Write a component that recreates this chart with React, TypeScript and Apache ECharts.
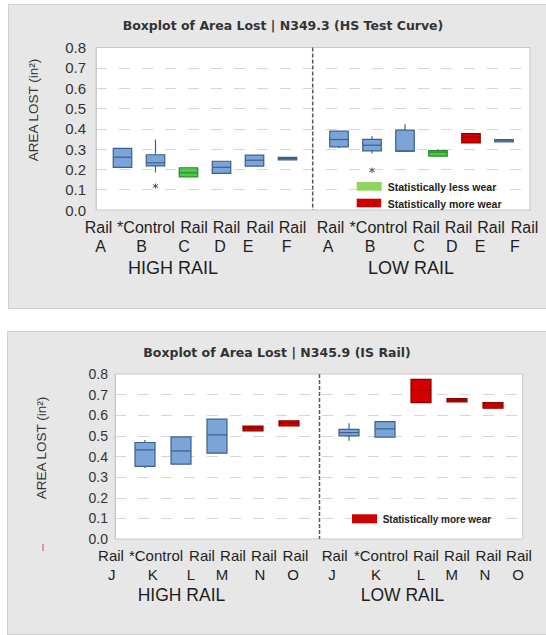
import React, { useEffect, useRef } from 'react';
import * as echarts from 'echarts';

// ---------- data ----------
const topTitle = 'Boxplot of Area Lost | N349.3 (HS Test Curve)';
const bottomTitle = 'Boxplot of Area Lost | N345.9 (IS Rail)';
const yAxisName = 'AREA LOST (in²)';
const yMin = 0;
const yMax = 0.8;
const yStep = 0.1;

const topCats = ['Rail A', '*Control B', 'Rail C', 'Rail D', 'Rail E', 'Rail F'];
const bottomCats = ['Rail J', '*Control K', 'Rail L', 'Rail M', 'Rail N', 'Rail O'];
const groupNames = ['HIGH RAIL', 'LOW RAIL'];

// [min, Q1, median, Q3, max]
const topHighBoxes = [
  [0.21, 0.21, 0.26, 0.303, 0.303],
  [0.185, 0.217, 0.232, 0.272, 0.347],
  [0.163, 0.163, 0.183, 0.208, 0.208],
  [0.18, 0.18, 0.21, 0.24, 0.24],
  [0.216, 0.216, 0.245, 0.27, 0.27],
  [0.247, 0.247, 0.253, 0.259, 0.259],
];
const topHighWear = ['none', 'none', 'less', 'none', 'none', 'none'];
const topHighOutliers = [[1, 0.118]];

const topLowBoxes = [
  [0.305, 0.311, 0.347, 0.388, 0.388],
  [0.278, 0.291, 0.319, 0.348, 0.363],
  [0.29, 0.29, 0.29, 0.393, 0.422],
  [0.265, 0.265, 0.285, 0.292, 0.3],
  [0.33, 0.33, 0.357, 0.376, 0.376],
  [0.336, 0.336, 0.341, 0.346, 0.346],
];
const topLowWear = ['none', 'none', 'none', 'less', 'more', 'none'];
const topLowOutliers = [[1, 0.196]];

const bottomHighBoxes = [
  null,
  [0.344, 0.352, 0.432, 0.468, 0.48],
  [0.363, 0.363, 0.427, 0.495, 0.495],
  [0.416, 0.416, 0.505, 0.581, 0.581],
  [0.524, 0.524, 0.538, 0.548, 0.548],
  [0.548, 0.548, 0.562, 0.573, 0.573],
];
const bottomHighWear = ['none', 'none', 'none', 'none', 'more', 'more'];

const bottomLowBoxes = [
  null,
  [0.476, 0.5, 0.516, 0.532, 0.561],
  [0.494, 0.494, 0.534, 0.569, 0.569],
  [0.661, 0.661, 0.722, 0.774, 0.774],
  [0.665, 0.665, 0.673, 0.681, 0.681],
  [0.634, 0.634, 0.647, 0.661, 0.661],
];
const bottomLowWear = ['none', 'none', 'none', 'more', 'more', 'more'];

const legendLess = 'Statistically less wear';
const legendMore = 'Statistically more wear';

// ---------- styles / layout ----------
const boxColors: Record<string, { fill: string; stroke: string }> = {
  none: { fill: '#7ba4d8', stroke: '#3e5f8b' },
  less: { fill: '#4cc94c', stroke: '#2b8a2b' },
  more: { fill: '#d40000', stroke: '#8c0000' },
};

const topHighRow1X = [98.5, 146, 194, 226.5, 260, 292.5];
const topHighRow2X = [100.7, 141.7, 184, 220, 248, 286.7];
const topLowRow1X = [330.5, 378.5, 426, 458.5, 491, 524.5];
const topLowRow2X = [328, 370, 419, 451.7, 480, 515];
const botHighRow1X = [111, 156, 202, 233, 264, 295.5];
const botHighRow2X = [111.7, 152.7, 191, 222, 260, 293];
const botLowRow1X = [334.7, 381, 426, 457, 488.5, 519];
const botLowRow2X = [332, 376, 421, 451.7, 485, 518];

const FONT = 'Liberation Sans, Arial, sans-serif';

function toData(boxes: (number[] | null)[]) {
  const out: number[][] = [];
  boxes.forEach((b, i) => {
    if (b) out.push([i, ...b]);
  });
  return out;
}

function boxRenderer(boxW: number, wear: string[]) {
  return (params: any, api: any) => {
    const i = api.value(0);
    const x = api.coord([i, 0])[0];
    const yLo = api.coord([i, api.value(1)])[1];
    const yQ1 = api.coord([i, api.value(2)])[1];
    const yMed = api.coord([i, api.value(3)])[1];
    const yQ3 = api.coord([i, api.value(4)])[1];
    const yHi = api.coord([i, api.value(5)])[1];
    const c = boxColors[wear[i]] || boxColors.none;
    const lw = 1.2;
    const h = Math.max(yQ1 - yQ3, 2.5);
    const top = (yQ1 + yQ3) / 2 - h / 2;
    return {
      type: 'group',
      children: [
        { type: 'line', shape: { x1: x, y1: yHi, x2: x, y2: yQ3 }, style: { stroke: c.stroke, lineWidth: lw } },
        { type: 'line', shape: { x1: x, y1: yQ1, x2: x, y2: yLo }, style: { stroke: c.stroke, lineWidth: lw } },
        {
          type: 'rect',
          shape: { x: x - boxW / 2, y: top, width: boxW, height: h },
          style: { fill: c.fill, stroke: c.stroke, lineWidth: lw },
        },
        {
          type: 'line',
          shape: { x1: x - boxW / 2, y1: yMed, x2: x + boxW / 2, y2: yMed },
          style: { stroke: c.stroke, lineWidth: lw },
        },
      ],
    };
  };
}

function outlierRenderer(params: any, api: any) {
  const p = api.coord([api.value(0), api.value(1)]);
  const s = 2.6;
  const st = { stroke: '#555', lineWidth: 1 };
  return {
    type: 'group',
    children: [
      { type: 'line', shape: { x1: p[0], y1: p[1] - s, x2: p[0], y2: p[1] + s }, style: st },
      { type: 'line', shape: { x1: p[0] - s, y1: p[1] - s * 0.6, x2: p[0] + s, y2: p[1] + s * 0.6 }, style: st },
      { type: 'line', shape: { x1: p[0] - s, y1: p[1] + s * 0.6, x2: p[0] + s, y2: p[1] - s * 0.6 }, style: st },
    ],
  };
}

function txt(x: number, y: number, text: string, size: number, extra: any = {}) {
  return {
    type: 'text',
    x,
    y,
    z: 100,
    style: {
      text,
      fontFamily: FONT,
      fontSize: size,
      fill: '#1e1e1e',
      align: 'center',
      verticalAlign: 'middle',
      ...extra,
    },
  };
}

function labelRows(cats: string[], row1: number[], row2: number[], y1: number, y2: number, size: number) {
  const out: any[] = [];
  cats.forEach((c, i) => {
    const parts = c.split(' ');
    out.push(txt(row1[i], y1, parts[0], size));
    out.push(txt(row2[i], y2, parts[1], size));
  });
  return out;
}

export default function App() {
  const ref = useRef<HTMLDivElement>(null);

  useEffect(() => {
    if (!ref.current) return;
    const chart = echarts.init(ref.current, undefined, { renderer: 'svg' });

    const bgY = (fontSize: number, margin: number) => ({
      type: 'value',
      min: yMin,
      max: yMax,
      interval: yStep,
      axisLine: { show: true, lineStyle: { color: '#c9ccd2' } },
      axisTick: { show: false },
      axisLabel: {
        fontFamily: FONT,
        fontSize,
        color: '#333',
        margin,
        formatter: (v: number) => v.toFixed(1),
      },
      splitLine: {
        show: true,
        showMinLine: false,
        showMaxLine: false,
        lineStyle: { color: '#d6d6d6', type: [11, 12], width: 1 },
      },
    });
    const hiddenY = { type: 'value', min: yMin, max: yMax, show: false };

    const grids = [
      { left: 96, top: 47.5, width: 434, height: 162.5, show: true, backgroundColor: '#fff', borderColor: '#c9c9c9', borderWidth: 1 },
      { left: 106, top: 47.5, width: 198, height: 162.5 },
      { left: 322.5, top: 47.5, width: 198, height: 162.5 },
      { left: 115, top: 374, width: 407.7, height: 165, show: true, backgroundColor: '#fff', borderColor: '#c9c9c9', borderWidth: 1 },
      { left: 91, top: 374, width: 216, height: 165 },
      { left: 295, top: 374, width: 216, height: 165 },
    ].map((g) => ({ ...g, containLabel: false, outerBoundsMode: 'none' }));

    const xAxes = [
      { gridIndex: 0, type: 'value', min: 0, max: 1, show: false },
      { gridIndex: 1, type: 'category', data: topCats, show: false },
      { gridIndex: 2, type: 'category', data: topCats, show: false },
      { gridIndex: 3, type: 'value', min: 0, max: 1, show: false },
      { gridIndex: 4, type: 'category', data: bottomCats, show: false },
      { gridIndex: 5, type: 'category', data: bottomCats, show: false },
    ];
    const yAxes = [
      { gridIndex: 0, ...bgY(15, 10) },
      { gridIndex: 1, ...hiddenY },
      { gridIndex: 2, ...hiddenY },
      { gridIndex: 3, ...bgY(14, 7) },
      { gridIndex: 4, ...hiddenY },
      { gridIndex: 5, ...hiddenY },
    ];

    const boxSeries = (idx: number, boxes: any[], wear: string[], w: number) => ({
      type: 'custom',
      xAxisIndex: idx,
      yAxisIndex: idx,
      renderItem: boxRenderer(w, wear),
      encode: { x: 0, y: [1, 2, 3, 4, 5] },
      data: toData(boxes),
      clip: false,
      z: 5,
    });
    const outSeries = (idx: number, pts: number[][]) => ({
      type: 'custom',
      xAxisIndex: idx,
      yAxisIndex: idx,
      renderItem: outlierRenderer,
      encode: { x: 0, y: 1 },
      data: pts,
      clip: false,
      z: 5,
    });

    const graphics: any[] = [
      // titles
      txt(283, 25, topTitle, 12.5, { fontFamily: 'DejaVu Sans, sans-serif', fontWeight: 'bold', fill: '#333' }),
      txt(277, 352, bottomTitle, 12.5, { fontFamily: 'DejaVu Sans, sans-serif', fontWeight: 'bold', fill: '#333' }),
      // y-axis names
      { ...txt(33, 110, yAxisName, 13.5, { fill: '#333' }), rotation: Math.PI / 2 },
      { ...txt(41.7, 448, yAxisName, 13.5, { fill: '#333' }), rotation: Math.PI / 2 },
      // dividers
      { type: 'line', z: 100, shape: { x1: 312.7, y1: 47.5, x2: 312.7, y2: 210 }, style: { stroke: '#5a5a5a', lineWidth: 1.5, lineDash: [4, 2] } },
      { type: 'line', z: 100, shape: { x1: 319.5, y1: 374, x2: 319.5, y2: 539 }, style: { stroke: '#5a5a5a', lineWidth: 1.5, lineDash: [4, 2] } },
      // legends
      { type: 'rect', z: 100, shape: { x: 356.7, y: 182, width: 25, height: 8.7 }, style: { fill: '#8fd45c' } },
      txt(387.7, 186.5, legendLess, 10.5, { align: 'left', fontWeight: 'bold', fill: '#222' }),
      { type: 'rect', z: 100, shape: { x: 356.7, y: 198.7, width: 24.5, height: 8.6 }, style: { fill: '#cc0000' } },
      txt(387.7, 203.5, legendMore, 10.5, { align: 'left', fontWeight: 'bold', fill: '#222' }),
      { type: 'rect', z: 100, shape: { x: 352, y: 514.3, width: 25, height: 9 }, style: { fill: '#cc0000' } },
      txt(382.7, 519.5, legendMore, 10, { align: 'left', fontWeight: 'bold', fill: '#222' }),
      // group labels
      txt(173, 268, groupNames[0], 18),
      txt(411, 268, groupNames[1], 18),
      txt(181.5, 594.5, groupNames[0], 17.5),
      txt(402.5, 594.5, groupNames[1], 17.5),
      // stray mark
      { type: 'line', z: 100, shape: { x1: 43, y1: 544, x2: 43, y2: 551 }, style: { stroke: '#d24a4a', lineWidth: 1 } },
      ...labelRows(topCats, topHighRow1X, topHighRow2X, 227.7, 246.7, 16),
      ...labelRows(topCats, topLowRow1X, topLowRow2X, 227.7, 246.7, 16),
      ...labelRows(bottomCats, botHighRow1X, botHighRow2X, 555, 574, 15),
      ...labelRows(bottomCats, botLowRow1X, botLowRow2X, 555, 574, 15),
    ];

    chart.setOption({
      animation: false,
      backgroundColor: 'transparent',
      grid: grids,
      xAxis: xAxes,
      yAxis: yAxes,
      series: [
        boxSeries(1, topHighBoxes, topHighWear, 18.5),
        boxSeries(2, topLowBoxes, topLowWear, 18.5),
        outSeries(1, topHighOutliers),
        outSeries(2, topLowOutliers),
        boxSeries(4, bottomHighBoxes, bottomHighWear, 20),
        boxSeries(5, bottomLowBoxes, bottomLowWear, 20),
      ],
      graphic: { elements: graphics },
    } as any);

    return () => chart.dispose();
  }, []);

  return (
    <div style={{ position: 'fixed', left: 0, top: 0, width: 546, height: 635, overflow: 'hidden', background: '#fff' }}>
      <div
        style={{
          position: 'absolute',
          left: 8,
          top: 4,
          width: 560,
          height: 303,
          background: '#e7e7e7',
          border: '1px solid #d0d0d0',
        }}
      />
      <div
        style={{
          position: 'absolute',
          left: 7,
          top: 331,
          width: 560,
          height: 302,
          background: '#e7e7e7',
          border: '1px solid #d0d0d0',
        }}
      />
      <div ref={ref} style={{ position: 'absolute', left: 0, top: 0, width: 546, height: 635 }} />
    </div>
  );
}
